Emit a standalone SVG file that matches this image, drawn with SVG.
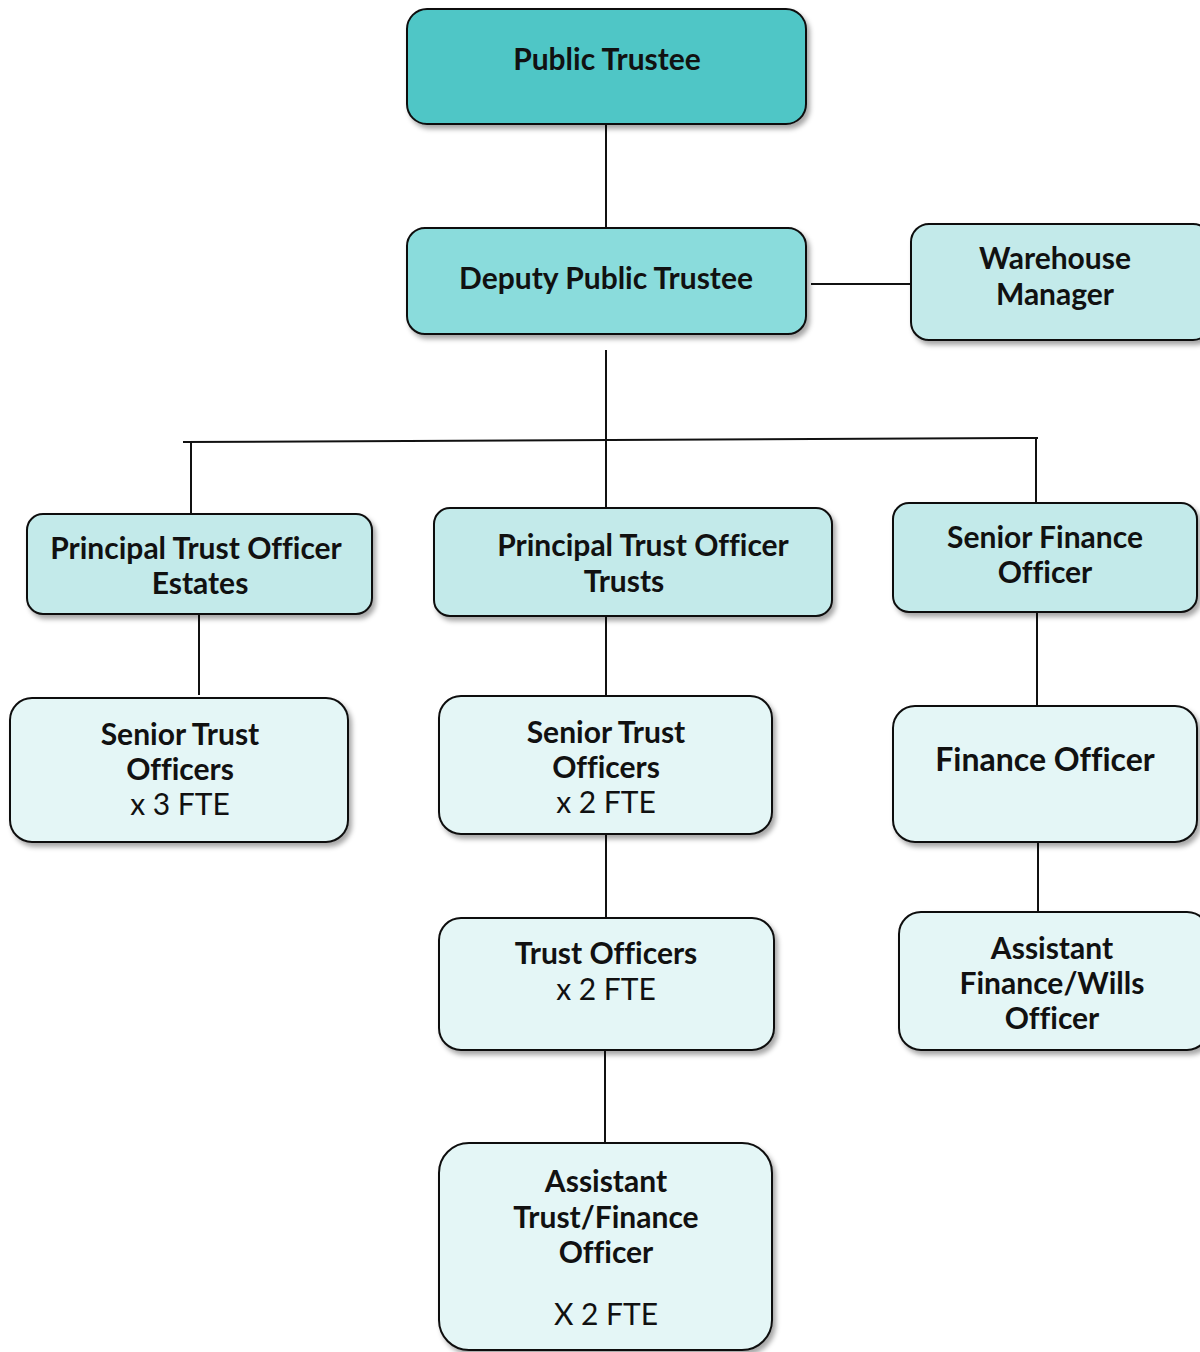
<svg xmlns="http://www.w3.org/2000/svg" width="1200" height="1352" viewBox="0 0 1200 1352">
<defs>
<filter id="sh" x="-10%" y="-10%" width="125%" height="130%">
<feDropShadow dx="3" dy="4" stdDeviation="2.5" flood-color="#000" flood-opacity="0.35"/>
</filter>
<style>
.n{stroke:#111;stroke-width:2;filter:url(#sh)}
.c1{fill:#50c6c6}.c2{fill:#8adcdc}.c3{fill:#c3eaea}.c4{fill:#e4f6f6}
text{font-family:Lato,"Open Sans","Liberation Sans",sans-serif;font-size:30px;fill:#111;text-anchor:middle;font-variant-ligatures:none}
.b{font-weight:bold}
.big{font-size:32px}
.cn line{stroke:#111;stroke-width:2}
</style>
</defs>
<rect width="1200" height="1352" fill="#fff"/>
<g class="cn">
<line x1="606" y1="124" x2="606" y2="228"/>
<line x1="811" y1="284" x2="912" y2="284"/>
<line x1="606" y1="350" x2="606" y2="508"/>
<line x1="183" y1="442" x2="1038" y2="438"/>
<line x1="191" y1="443" x2="191" y2="514"/>
<line x1="1036" y1="438" x2="1036" y2="503"/>
<line x1="199" y1="614" x2="199" y2="695"/>
<line x1="606" y1="616" x2="606" y2="696"/>
<line x1="1037" y1="612" x2="1037" y2="706"/>
<line x1="606" y1="834" x2="606" y2="918"/>
<line x1="1038" y1="842" x2="1038" y2="912"/>
<line x1="605" y1="1050" x2="605" y2="1143"/>
</g>
<g id="public-trustee"><rect class="n c1" x="407" y="9" width="399" height="115" rx="20"/><text class="b" x="607" y="70">Public Trustee</text></g>
<g id="deputy"><rect class="n c2" x="407" y="228" width="399" height="106" rx="18"/><text class="b" x="606" y="289">Deputy Public Trustee</text></g>
<g id="warehouse"><rect class="n c3" x="911" y="224" width="300" height="116" rx="18"/><text class="b" x="1055" y="269">Warehouse</text><text class="b" x="1055" y="305">Manager</text></g>
<g id="pto-estates"><rect class="n c3" x="27" y="514" width="345" height="100" rx="16"/><text class="b" x="196" y="559">Principal Trust Officer</text><text class="b" x="200" y="594">Estates</text></g>
<g id="pto-trusts"><rect class="n c3" x="434" y="508" width="398" height="108" rx="16"/><text class="b" x="643" y="556">Principal Trust Officer</text><text class="b" x="624" y="592">Trusts</text></g>
<g id="senior-finance"><rect class="n c3" x="893" y="503" width="304" height="109" rx="16"/><text class="b" x="1045" y="548">Senior Finance</text><text class="b" x="1045" y="583">Officer</text></g>
<g id="sto-3"><rect class="n c4" x="10" y="698" width="338" height="144" rx="22"/><text class="b" x="180" y="745">Senior Trust</text><text class="b" x="180" y="780">Officers</text><text x="180" y="815">x 3 FTE</text></g>
<g id="sto-2"><rect class="n c4" x="439" y="696" width="333" height="138" rx="22"/><text class="b" x="606" y="743">Senior Trust</text><text class="b" x="606" y="778">Officers</text><text x="606" y="813">x 2 FTE</text></g>
<g id="finance-officer"><rect class="n c4" x="893" y="706" width="304" height="136" rx="22"/><text class="b big" x="1045" y="771">Finance Officer</text></g>
<g id="trust-officers"><rect class="n c4" x="439" y="918" width="335" height="132" rx="22"/><text class="b" x="606" y="964">Trust Officers</text><text x="606" y="1000">x 2 FTE</text></g>
<g id="asst-finance-wills"><rect class="n c4" x="899" y="912" width="310" height="138" rx="22"/><text class="b" x="1052" y="959">Assistant</text><text class="b" x="1052" y="994">Finance/Wills</text><text class="b" x="1052" y="1029">Officer</text></g>
<g id="asst-trust-finance"><rect class="n c4" x="439" y="1143" width="333" height="207" rx="30"/><text class="b" x="606" y="1192">Assistant</text><text class="b" x="606" y="1228">Trust/Finance</text><text class="b" x="606" y="1263">Officer</text><text x="606" y="1325">X 2 FTE</text></g>
</svg>
